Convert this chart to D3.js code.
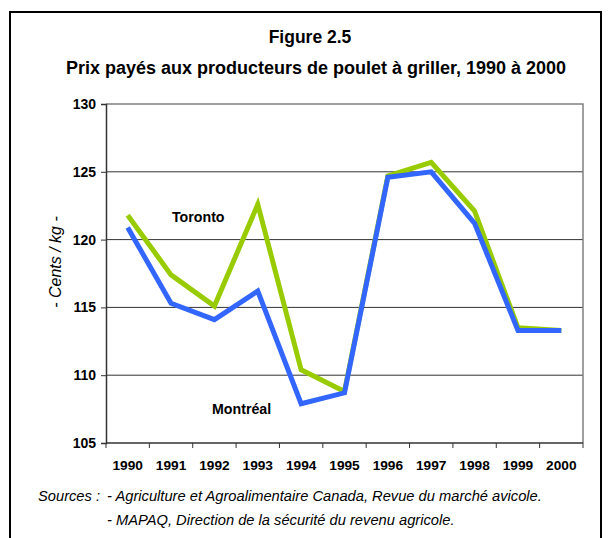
<!DOCTYPE html>
<html>
<head>
<meta charset="utf-8">
<script src="https://cdn.jsdelivr.net/npm/d3@7"></script>
<style>
  body { margin: 0; background: #fff; }
  svg { font-family: "Liberation Sans", Arial, sans-serif; }
</style>
</head>
<body>
<svg id="chart" width="609" height="538"></svg>
<script>
(function() {
    const years = ["1990", "1991", "1992", "1993", "1994", "1995", "1996", "1997", "1998", "1999", "2000"];
    const toronto = [121.8, 117.4, 115.1, 122.6, 110.4, 108.8, 124.7, 125.7, 122.1, 113.5, 113.3];
    const montreal = [120.9, 115.3, 114.1, 116.2, 107.9, 108.7, 124.6, 125.0, 121.2, 113.3, 113.3];
    const yTicks = [105, 110, 115, 120, 125, 130];

    const svg = d3.select("#chart");

    // outer frame (bottom open, like the scan)
    svg.append("path")
        .attr("d", "M10,545 V12 H601 V545")
        .attr("fill", "none")
        .attr("stroke", "#000")
        .attr("stroke-width", 2);

    const plot = { left: 106, right: 583, top: 104, bottom: 443 };

    const x = d3.scaleBand()
        .domain(years)
        .range([plot.left, plot.right]);

    const y = d3.scaleLinear()
        .domain([105, 130])
        .range([plot.bottom, plot.top]);

    // Titles
    svg.append("text")
        .attr("x", 310).attr("y", 43)
        .attr("text-anchor", "middle")
        .style("font-size", "17.5px").style("font-weight", "bold")
        .text("Figure 2.5");
    svg.append("text")
        .attr("x", 316).attr("y", 74)
        .attr("text-anchor", "middle")
        .style("font-size", "18px").style("font-weight", "bold")
        .text("Prix payés aux producteurs de poulet à griller, 1990 à 2000");

    // Gridlines
    svg.append("g")
        .selectAll("line")
        .data(yTicks.filter(d => d > 105 && d < 130))
        .join("line")
        .attr("x1", plot.left).attr("x2", plot.right)
        .attr("y1", d => y(d)).attr("y2", d => y(d))
        .attr("stroke", "#333").attr("stroke-width", 1);

    // top & right border of plot area
    svg.append("path")
        .attr("d", `M${plot.left},${y(130)} H${plot.right} V${plot.bottom}`)
        .attr("fill", "none")
        .attr("stroke", "#808080")
        .attr("stroke-width", 1.5);

    // Y axis
    const yAxis = svg.append("g")
        .attr("transform", `translate(${plot.left},0)`)
        .call(d3.axisLeft(y).tickValues(yTicks).tickSize(5).tickPadding(5));
    yAxis.select(".domain").attr("stroke", "#333").attr("stroke-width", 1.5);
    yAxis.selectAll(".tick line").attr("stroke", "#333");
    yAxis.selectAll("text")
        .style("font-size", "14px").style("font-weight", "bold")
        .attr("fill", "#000");

    // X axis (ticks at category boundaries)
    const xAxis = svg.append("g")
        .attr("transform", `translate(0,${plot.bottom})`);
    xAxis.append("line")
        .attr("x1", plot.left).attr("x2", plot.right)
        .attr("stroke", "#333").attr("stroke-width", 1.5);
    xAxis.selectAll(".xtick")
        .data(years.concat(["end"]))
        .join("line")
        .attr("class", "xtick")
        .attr("x1", (d, i) => i < years.length ? x(d) : plot.right)
        .attr("x2", (d, i) => i < years.length ? x(d) : plot.right)
        .attr("y1", 0).attr("y2", 5)
        .attr("stroke", "#333");
    xAxis.selectAll(".xlabel")
        .data(years)
        .join("text")
        .attr("class", "xlabel")
        .attr("x", d => x(d) + x.bandwidth() / 2)
        .attr("y", 27)
        .attr("text-anchor", "middle")
        .style("font-size", "13.7px").style("font-weight", "bold")
        .text(d => d);

    // Y axis title
    svg.append("text")
        .attr("transform", "translate(61,262) rotate(-90)")
        .attr("text-anchor", "middle")
        .style("font-size", "16px").style("font-style", "italic")
        .text("- Cents / kg -");

    // Lines
    const line = d3.line()
        .x((d, i) => x(years[i]) + x.bandwidth() / 2)
        .y(d => y(d));

    svg.append("path")
        .datum(toronto)
        .attr("d", line)
        .attr("fill", "none")
        .attr("stroke", "#99CC00")
        .attr("stroke-width", 5);

    svg.append("path")
        .datum(montreal)
        .attr("d", line)
        .attr("fill", "none")
        .attr("stroke", "#3366FF")
        .attr("stroke-width", 5);

    // Series labels
    svg.append("text")
        .attr("x", 172).attr("y", 222)
        .style("font-size", "14.2px").style("font-weight", "bold")
        .text("Toronto");
    svg.append("text")
        .attr("x", 212).attr("y", 414)
        .style("font-size", "14.2px").style("font-weight", "bold")
        .text("Montréal");

    // Sources
    svg.append("text")
        .attr("x", 38).attr("y", 501)
        .style("font-size", "14.7px").style("font-style", "italic")
        .text("Sources :");
    svg.append("text")
        .attr("x", 107).attr("y", 501)
        .style("font-size", "14.7px").style("font-style", "italic")
        .text("- Agriculture et Agroalimentaire Canada, Revue du marché avicole.");
    svg.append("text")
        .attr("x", 107).attr("y", 525)
        .style("font-size", "14.7px").style("font-style", "italic")
        .text("- MAPAQ, Direction de la sécurité du revenu agricole.");
})();
</script>
</body>
</html>
